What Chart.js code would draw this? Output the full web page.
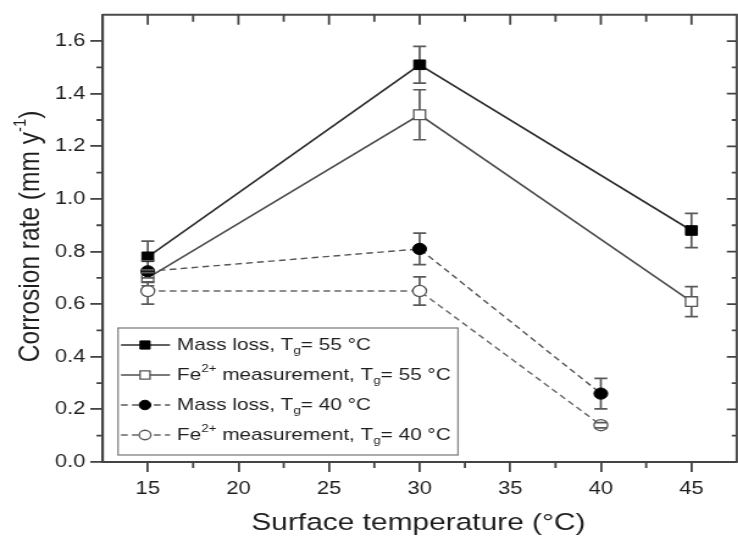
<!DOCTYPE html>
<html>
<head>
<meta charset="utf-8">
<title>Corrosion rate vs surface temperature</title>
<script src="https://cdn.jsdelivr.net/npm/chart.js@4.4.1/dist/chart.umd.min.js"></script>
<style>
    html, body { margin: 0; padding: 0; background: #fff; overflow: hidden; }
    #wrap { width: 738px; height: 540px; overflow: hidden; position: relative; }
    #corrosionChart { display: block; transform-origin: 0 0; }
</style>
</head>
<body>
<div id="wrap"><canvas id="corrosionChart"></canvas></div>
<script>
// data
const tempsTg55 = [15, 30, 45];
const massLossTg55 = [0.78, 1.51, 0.88];
const massLossTg55Err = [0.06, 0.07, 0.065];
const feTg55 = [0.70, 1.32, 0.61];
const feTg55Err = [0.03, 0.095, 0.057];

const tempsTg40 = [15, 30, 40];
const massLossTg40 = [0.725, 0.81, 0.26];
const massLossTg40Err = [0.04, 0.06, 0.058];
const feTg40 = [0.65, 0.65, 0.14];
const feTg40Err = [0.05, 0.054, 0.01];

const xTicks = [15, 20, 25, 30, 35, 40, 45];
const yTicks = [0.0, 0.2, 0.4, 0.6, 0.8, 1.0, 1.2, 1.4, 1.6];

const xTitle = "Surface temperature (°C)";
const yTitleParts = [{ t: "Corrosion rate (mm y" }, { t: "-1", sup: true }, { t: ")" }];
const legendParts = [
    [{ t: "Mass loss, T" }, { t: "g", sub: true }, { t: "= 55 °C" }],
    [{ t: "Fe" }, { t: "2+", sup: true }, { t: " measurement, T" }, { t: "g", sub: true }, { t: "= 55 °C" }],
    [{ t: "Mass loss, T" }, { t: "g", sub: true }, { t: "= 40 °C" }],
    [{ t: "Fe" }, { t: "2+", sup: true }, { t: " measurement, T" }, { t: "g", sub: true }, { t: "= 40 °C" }]
];

/*-------------------------*\
   Layout
\*-------------------------*/

// the source figure is stretched sideways, so draw narrow and stretch the canvas
const STRETCH = 1.22;
const FONT = "'Liberation Sans', Arial, sans-serif";
const canvas = document.getElementById("corrosionChart");
canvas.width = Math.ceil(746 / STRETCH);
canvas.height = 540;
canvas.style.transform = `scaleX(${STRETCH})`;

Chart.defaults.font.family = FONT;
Chart.defaults.color = "#222";

function toPoints(xs, ys) {
    return xs.map((x, i) => ({ x: x, y: ys[i] }));
}

function drawRich(ctx, parts, x, y, size) {
    let cx = x;
    for (let p of parts) {
        let small = p.sup || p.sub;
        ctx.font = `${small ? Math.round(size * 0.62) : size}px ${FONT}`;
        let dy = p.sup ? -size * 0.36 : (p.sub ? size * 0.34 : 0);
        ctx.fillText(p.t, cx, y + dy);
        cx += ctx.measureText(p.t).width;
    }
    return cx - x;
}

function richWidth(ctx, parts, size) {
    let w = 0;
    for (let p of parts) {
        ctx.font = `${(p.sup || p.sub) ? Math.round(size * 0.62) : size}px ${FONT}`;
        w += ctx.measureText(p.t).width;
    }
    return w;
}

function eachErrorBar(chart, fn) {
    const { scales: { x, y } } = chart;
    chart.data.datasets.forEach((ds) => {
        ds.data.forEach((p, j) => {
            let e = ds.errors[j];
            fn(x.getPixelForValue(p.x), y.getPixelForValue(p.y + e), y.getPixelForValue(p.y - e));
        });
    });
}

/*-------------------------*\
   Plugins
\*-------------------------*/

// stems go under the markers, caps on top of them
const errorBars = {
    id: "errorBars",
    beforeDatasetsDraw(chart) {
        const ctx = chart.ctx;
        ctx.save();
        ctx.strokeStyle = "#5a5a5a";
        ctx.lineWidth = 1.7;
        ctx.beginPath();
        eachErrorBar(chart, (px, top, bot) => {
            ctx.moveTo(px, top); ctx.lineTo(px, bot);
        });
        ctx.stroke();
        ctx.restore();
    },
    afterDatasetsDraw(chart) {
        const ctx = chart.ctx;
        const cap = 6.5 / STRETCH;
        ctx.save();
        ctx.strokeStyle = "#5a5a5a";
        ctx.lineWidth = 1.7;
        ctx.beginPath();
        eachErrorBar(chart, (px, top, bot) => {
            ctx.moveTo(px - cap, top); ctx.lineTo(px + cap, top);
            ctx.moveTo(px - cap, bot); ctx.lineTo(px + cap, bot);
        });
        ctx.stroke();
        ctx.restore();
    }
};

const frameTicks = {
    id: "frameTicks",
    afterDraw(chart) {
        const { ctx, chartArea: a, scales: { x, y } } = chart;
        ctx.save();
        ctx.strokeStyle = "#4a4a4a";
        ctx.lineWidth = 2;
        ctx.beginPath();
        ctx.moveTo(a.left, a.top); ctx.lineTo(a.right, a.top); ctx.lineTo(a.right, a.bottom);
        ctx.stroke();

        const major = 10, minor = 5;
        const xMinor = xTicks.slice(0, -1).map((v, i) => (v + xTicks[i + 1]) / 2);
        const yMinor = yTicks.slice(0, -1).map((v, i) => (v + yTicks[i + 1]) / 2);
        ctx.strokeStyle = "#444";
        ctx.lineWidth = 1.8;
        ctx.beginPath();
        for (let v of xTicks) {
            let px = x.getPixelForValue(v);
            ctx.moveTo(px, a.top); ctx.lineTo(px, a.top + major);
        }
        for (let v of xMinor) {
            let px = x.getPixelForValue(v);
            ctx.moveTo(px, a.top); ctx.lineTo(px, a.top + minor + 2);
            ctx.moveTo(px, a.bottom); ctx.lineTo(px, a.bottom + minor + 1);
        }
        for (let v of yTicks) {
            let py = y.getPixelForValue(v);
            ctx.moveTo(a.right, py); ctx.lineTo(a.right - major / STRETCH, py);
        }
        for (let v of yMinor) {
            let py = y.getPixelForValue(v);
            ctx.moveTo(a.right, py); ctx.lineTo(a.right - minor / STRETCH, py);
            ctx.moveTo(a.left, py); ctx.lineTo(a.left - (minor + 1) / STRETCH, py);
        }
        ctx.stroke();
        ctx.restore();
    }
};

const titlesAndLegend = {
    id: "titlesAndLegend",
    afterDraw(chart) {
        const { ctx, chartArea: a } = chart;
        ctx.save();
        ctx.fillStyle = "#1e1e1e";
        ctx.textBaseline = "middle";

        // axis titles
        const titleSize = 24.5;
        ctx.font = `${titleSize}px ${FONT}`;
        ctx.textAlign = "center";
        ctx.fillText(xTitle, (a.left + a.right) / 2 - 1, 523);

        ctx.textAlign = "left";
        let yw = richWidth(ctx, yTitleParts, titleSize);
        ctx.save();
        ctx.translate(31 / STRETCH, (a.top + a.bottom) / 2 - 2);
        ctx.rotate(-Math.PI / 2);
        drawRich(ctx, yTitleParts, -yw / 2, 0, titleSize);
        ctx.restore();

        // legend box
        const left = 118 / STRETCH, right = 458 / STRETCH, top = 328, bottom = 455;
        ctx.strokeStyle = "#808080";
        ctx.lineWidth = 1.3;
        ctx.strokeRect(left, top, right - left, bottom - top);

        const legendSize = 17;
        legendParts.forEach((parts, i) => {
            let ds = chart.data.datasets[i];
            let ry = top + 17 + i * 30;
            ctx.save();
            ctx.strokeStyle = ds.borderColor;
            ctx.lineWidth = ds.borderWidth;
            ctx.setLineDash(ds.borderDash || []);
            ctx.beginPath();
            ctx.moveTo(121 / STRETCH, ry); ctx.lineTo(170 / STRETCH, ry);
            ctx.stroke();
            ctx.setLineDash([]);
            ctx.fillStyle = ds.pointBackgroundColor;
            ctx.strokeStyle = ds.pointBorderColor;
            ctx.lineWidth = ds.pointBorderWidth;
            Chart.helpers.drawPoint(ctx, {
                pointStyle: ds.pointStyle, rotation: 0,
                radius: ds.pointRadius * 0.85, borderWidth: ds.pointBorderWidth
            }, 145 / STRETCH, ry);
            ctx.restore();
            drawRich(ctx, parts, 177 / STRETCH, ry, legendSize);
        });
        ctx.restore();
    }
};

/*-------------------------*\
   Chart
\*-------------------------*/

new Chart(canvas, {
    type: "scatter",
    data: {
        datasets: [
            {
                label: "Mass loss, Tg= 55 °C",
                data: toPoints(tempsTg55, massLossTg55),
                errors: massLossTg55Err,
                order: 0,
                showLine: true,
                borderColor: "#2e2e2e",
                borderWidth: 1.6,
                pointStyle: "rect",
                pointRadius: 6.8,
                pointBackgroundColor: "#000",
                pointBorderColor: "#000",
                pointBorderWidth: 1
            },
            {
                label: "Fe2+ measurement, Tg= 55 °C",
                data: toPoints(tempsTg55, feTg55),
                errors: feTg55Err,
                order: 2,
                showLine: true,
                borderColor: "#4d4d4d",
                borderWidth: 1.6,
                pointStyle: "rect",
                pointRadius: 6.8,
                pointBackgroundColor: "#fff",
                pointBorderColor: "#555",
                pointBorderWidth: 1.3
            },
            {
                label: "Mass loss, Tg= 40 °C",
                data: toPoints(tempsTg40, massLossTg40),
                errors: massLossTg40Err,
                order: 1,
                showLine: true,
                borderColor: "#555",
                borderWidth: 1.4,
                borderDash: [5.5, 3.5],
                pointStyle: "circle",
                pointRadius: 5.6,
                pointBackgroundColor: "#000",
                pointBorderColor: "#000",
                pointBorderWidth: 1
            },
            {
                label: "Fe2+ measurement, Tg= 40 °C",
                data: toPoints(tempsTg40, feTg40),
                errors: feTg40Err,
                order: 3,
                showLine: true,
                borderColor: "#666",
                borderWidth: 1.4,
                borderDash: [5.5, 3.5],
                pointStyle: "circle",
                pointRadius: 5.6,
                pointBackgroundColor: "#fff",
                pointBorderColor: "#555",
                pointBorderWidth: 1.3
            }
        ]
    },
    options: {
        responsive: false,
        animation: false,
        events: [],
        layout: { padding: { left: 0, top: 12, right: 3, bottom: 0 } },
        elements: { line: { tension: 0 } },
        plugins: {
            legend: { display: false },
            tooltip: { enabled: false }
        },
        scales: {
            x: {
                type: "linear",
                min: 12.5,
                max: 47.5,
                afterBuildTicks: (scale) => { scale.ticks = xTicks.map(v => ({ value: v })); },
                afterFit: (scale) => { scale.height = 78; },
                grid: { drawOnChartArea: false, drawTicks: true, tickLength: 10, color: "#444", lineWidth: 1.8 },
                border: { display: true, color: "#444", width: 2 },
                ticks: { padding: 6, maxRotation: 0, autoSkip: false, font: { size: 18 }, color: "#1e1e1e" }
            },
            y: {
                type: "linear",
                min: 0,
                max: 1.7,
                afterBuildTicks: (scale) => { scale.ticks = yTicks.map(v => ({ value: v })); },
                afterFit: (scale) => { scale.width = Math.round(103 / STRETCH); },
                grid: { drawOnChartArea: false, drawTicks: true, tickLength: 10, color: "#444", lineWidth: 1.8 },
                border: { display: true, color: "#444", width: 2.2 },
                ticks: {
                    padding: 4, autoSkip: false, font: { size: 18 }, color: "#1e1e1e",
                    callback: (value) => Number(value).toFixed(1)
                }
            }
        }
    },
    plugins: [errorBars, frameTicks, titlesAndLegend]
});
</script>
</body>
</html>
